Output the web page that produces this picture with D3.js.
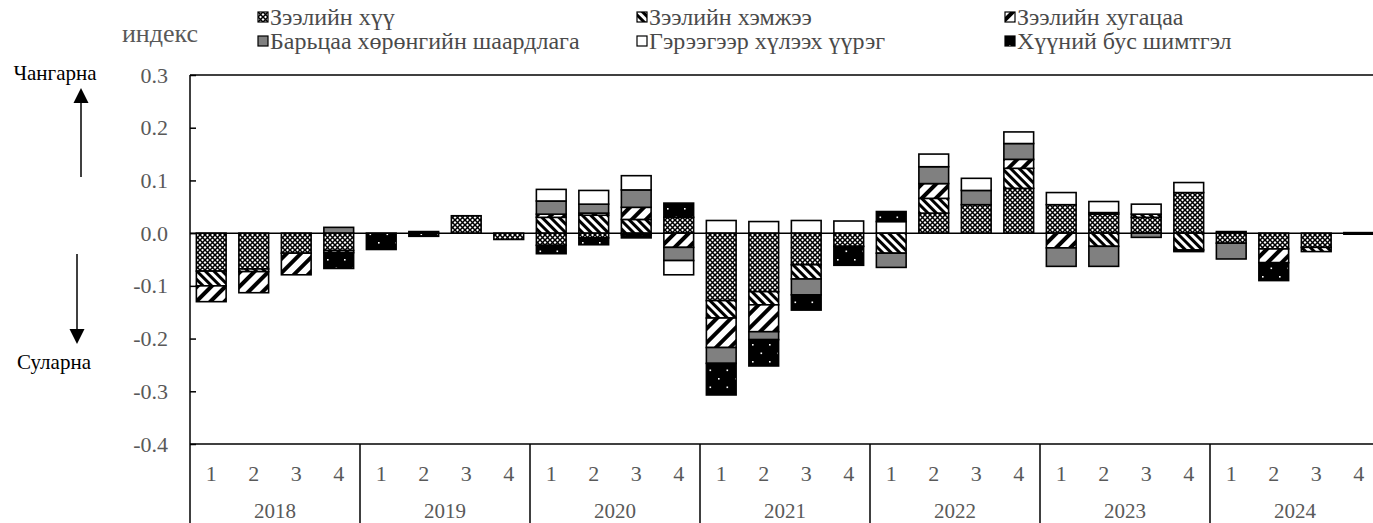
<!DOCTYPE html>
<html><head><meta charset="utf-8">
<script src="https://cdn.jsdelivr.net/npm/d3@7"></script>
<style>
html,body{margin:0;padding:0;background:#fff;}
svg{display:block;}
text{font-family:"Liberation Serif","Times New Roman",serif;}
</style></head>
<body>
<svg id="chart" width="1373" height="523"></svg>
<script>
// ---- data ----
const years = ["2018","2019","2020","2021","2022","2023","2024"];
const quarters = ["1","2","3","4"];
const seriesNames = ["Зээлийн хүү","Зээлийн хэмжээ","Зээлийн хугацаа","Барьцаа хөрөнгийн шаардлага","Гэрээгээр хүлээх үүрэг","Хүүний бус шимтгэл"];
const yTicks = [0.3,0.2,0.1,0.0,-0.1,-0.2,-0.3,-0.4];
// 28 quarters 2018Q1..2024Q4
const rate     = [-0.072,-0.068,-0.038,-0.033,0,0.003,0.033,-0.012, -0.023,-0.009,-0.003,0.030, -0.128,-0.111,-0.060,-0.025, 0,0.038,0.054,0.085, 0.054,0.036,0.030,0.077, -0.019,-0.030,-0.027,0.001];
const amount   = [-0.028,-0.005,0,-0.004,0,0,0,0, 0.030,0.034,0.026,0, -0.033,-0.025,-0.027,0, -0.038,0.028,0,0.038, 0,-0.025,0.006,-0.032, 0,0,-0.008,0];
const maturity = [-0.030,-0.040,-0.041,0,0,0,0,0, 0.006,0.004,0.023,-0.027, -0.056,-0.051,0,0, 0,0.028,0,0.017, -0.028,0.003,0,0, 0,-0.026,0,0];
const collat   = [0,0,0,0.011,0,0,0,0, 0.025,0.017,0.033,-0.025, -0.030,-0.015,-0.030,0, -0.027,0.032,0.027,0.030, -0.035,-0.038,-0.008,0, -0.030,0,0,0];
const covenant = [0,0,0,0,0,0,0,0, 0.022,0.026,0.027,-0.027, 0.024,0.022,0.024,0.023, 0.022,0.024,0.023,0.022, 0.023,0.021,0.019,0.019, 0.003,0,0,0];
const fees     = [0,0,0,-0.030,-0.031,-0.006,0,0, -0.016,-0.013,-0.006,0.027, -0.060,-0.050,-0.029,-0.036, 0.019,0,0,0, 0,0,0,-0.003, 0,-0.034,0,-0.002];
const seriesValues = [rate, amount, maturity, collat, covenant, fees];

// ---- build table ----
const cats = [];
years.forEach(y => quarters.forEach(q => cats.push(y + "-" + q)));
const table = cats.map((c, i) => {
  const row = {cat: c};
  seriesNames.forEach((s, k) => row[s] = seriesValues[k][i]);
  return row;
});

const svg = d3.select("#chart");
const L = 190, R = 1380, T = 75, B = 444;

const x = d3.scaleBand().domain(cats).range([L, R]).paddingInner(0.3).paddingOuter(0.15);
const y = d3.scaleLinear().domain([-0.4, 0.3]).range([B, T]);

// ---- patterns ----
const defs = svg.append("defs");
// small cross/diamond lattice
const p0 = defs.append("pattern").attr("id","pat0").attr("patternUnits","userSpaceOnUse").attr("width",5).attr("height",5);
p0.append("rect").attr("width",5).attr("height",5).attr("fill","#fff");
p0.append("path").attr("d","M0,0L5,5M5,0L0,5").attr("stroke","#000").attr("stroke-width",1.5);
// wide downward diagonal "\"
const p1 = defs.append("pattern").attr("id","pat1").attr("patternUnits","userSpaceOnUse").attr("width",6).attr("height",6).attr("patternTransform","rotate(-45)");
p1.append("rect").attr("width",6).attr("height",6).attr("fill","#fff");
p1.append("rect").attr("width",3).attr("height",6).attr("fill","#000");
// wide upward diagonal "/"
const p2 = defs.append("pattern").attr("id","pat2").attr("patternUnits","userSpaceOnUse").attr("width",10).attr("height",10).attr("patternTransform","rotate(45)");
p2.append("rect").attr("width",10).attr("height",10).attr("fill","#fff");
p2.append("rect").attr("width",4).attr("height",10).attr("fill","#000");
// black with white dots
const p5 = defs.append("pattern").attr("id","pat5").attr("patternUnits","userSpaceOnUse").attr("width",17).attr("height",17);
p5.append("rect").attr("width",17).attr("height",17).attr("fill","#000");
p5.append("rect").attr("x",4).attr("y",4).attr("width",1.6).attr("height",1.6).attr("fill","#fff");
p5.append("rect").attr("x",12.5).attr("y",12.5).attr("width",1.6).attr("height",1.6).attr("fill","#fff");

const fills = ["url(#pat0)","url(#pat1)","url(#pat2)","#808080","#ffffff","url(#pat5)"];

// ---- frame ----
svg.append("line").attr("x1",L).attr("x2",R).attr("y1",T).attr("y2",T).attr("stroke","#000").attr("stroke-width",1.5);

// ---- bars ----
const stack = d3.stack().keys(seriesNames).offset(d3.stackOffsetDiverging);
const stacked = stack(table);
const gBars = svg.append("g");
stacked.forEach((ser, k) => {
  gBars.append("g").attr("fill", fills[k])
    .selectAll("rect").data(ser.filter(d => d[1] - d[0] !== 0)).join("rect")
    .attr("x", d => x(d.data.cat))
    .attr("width", x.bandwidth())
    .attr("y", d => y(Math.max(d[0], d[1])))
    .attr("height", d => Math.abs(y(d[0]) - y(d[1])))
    .attr("stroke", "#000").attr("stroke-width", 1.6);
});

// zero line
svg.append("line").attr("x1",L).attr("x2",R).attr("y1",y(0)).attr("y2",y(0)).attr("stroke","#000").attr("stroke-width",1.5);

// ---- y axis ----
const yAxis = d3.axisLeft(y).tickValues(yTicks).tickFormat(d => d.toFixed(1)).tickSizeInner(-6).tickSizeOuter(0).tickPadding(22);
const gy = svg.append("g").attr("transform", `translate(${L},0)`).call(yAxis);
gy.select(".domain").remove();
gy.selectAll(".tick line").attr("stroke","#000").attr("stroke-width",1.5);
gy.selectAll(".tick text").attr("fill","#595959").style("font-size","22px").style("font-family","'Liberation Serif',serif");
svg.append("line").attr("x1",L).attr("x2",L).attr("y1",T).attr("y2",523).attr("stroke","#000").attr("stroke-width",1.5);

// ---- category axis ----
svg.append("line").attr("x1",L).attr("x2",R).attr("y1",B).attr("y2",B).attr("stroke","#000").attr("stroke-width",1.5);
const half = (x.step() - x.bandwidth()) / 2;
svg.append("g").selectAll("text").data(cats).join("text")
  .attr("x", d => x(d) + x.bandwidth()/2).attr("y", 481)
  .attr("text-anchor","middle").attr("fill","#595959").style("font-size","22px")
  .text(d => d.split("-")[1]);
svg.append("g").selectAll("line").data(years.slice(1)).join("line")
  .attr("x1", d => x(d + "-1") - half).attr("x2", d => x(d + "-1") - half)
  .attr("y1", B).attr("y2", 523).attr("stroke","#000").attr("stroke-width",1.5);
svg.append("g").selectAll("text").data(years).join("text")
  .attr("x", d => (x(d + "-1") + x(d + "-4") + x.bandwidth())/2).attr("y", 518)
  .attr("text-anchor","middle").attr("fill","#595959").style("font-size","21px")
  .text(d => d);

// ---- annotations ----
svg.append("text").attr("x",160).attr("y",42).attr("text-anchor","middle").attr("fill","#595959").style("font-size","26px").text("индекс");
svg.append("text").attr("x",55).attr("y",80).attr("text-anchor","middle").attr("fill","#000").style("font-size","21px").text("Чангарна");
svg.append("text").attr("x",54).attr("y",369).attr("text-anchor","middle").attr("fill","#000").style("font-size","21px").text("Суларна");
// arrows
svg.append("line").attr("x1",81).attr("x2",81).attr("y1",177).attr("y2",100).attr("stroke","#000").attr("stroke-width",1.5);
svg.append("path").attr("d","M81,88L73.5,103L88.5,103Z").attr("fill","#000");
svg.append("line").attr("x1",77).attr("x2",77).attr("y1",254).attr("y2",332).attr("stroke","#000").attr("stroke-width",1.5);
svg.append("path").attr("d","M77,344L69.5,329L84.5,329Z").attr("fill","#000");

// ---- legend ----
const legX = [258, 637, 1005];
const legY = [17, 41];
const leg = svg.append("g");
seriesNames.forEach((s, k) => {
  const col = k % 3, row = Math.floor(k / 3);
  const g = leg.append("g").attr("transform", `translate(${legX[col]},${legY[row]})`);
  g.append("rect").attr("x",0).attr("y",-5).attr("width",10).attr("height",10)
    .attr("fill", fills[k]).attr("stroke","#000").attr("stroke-width",1.2);
  g.append("text").attr("x",12).attr("y",8).attr("fill","#4a4a4a").style("font-size","24px").text(s);
});
</script>
</body></html>
